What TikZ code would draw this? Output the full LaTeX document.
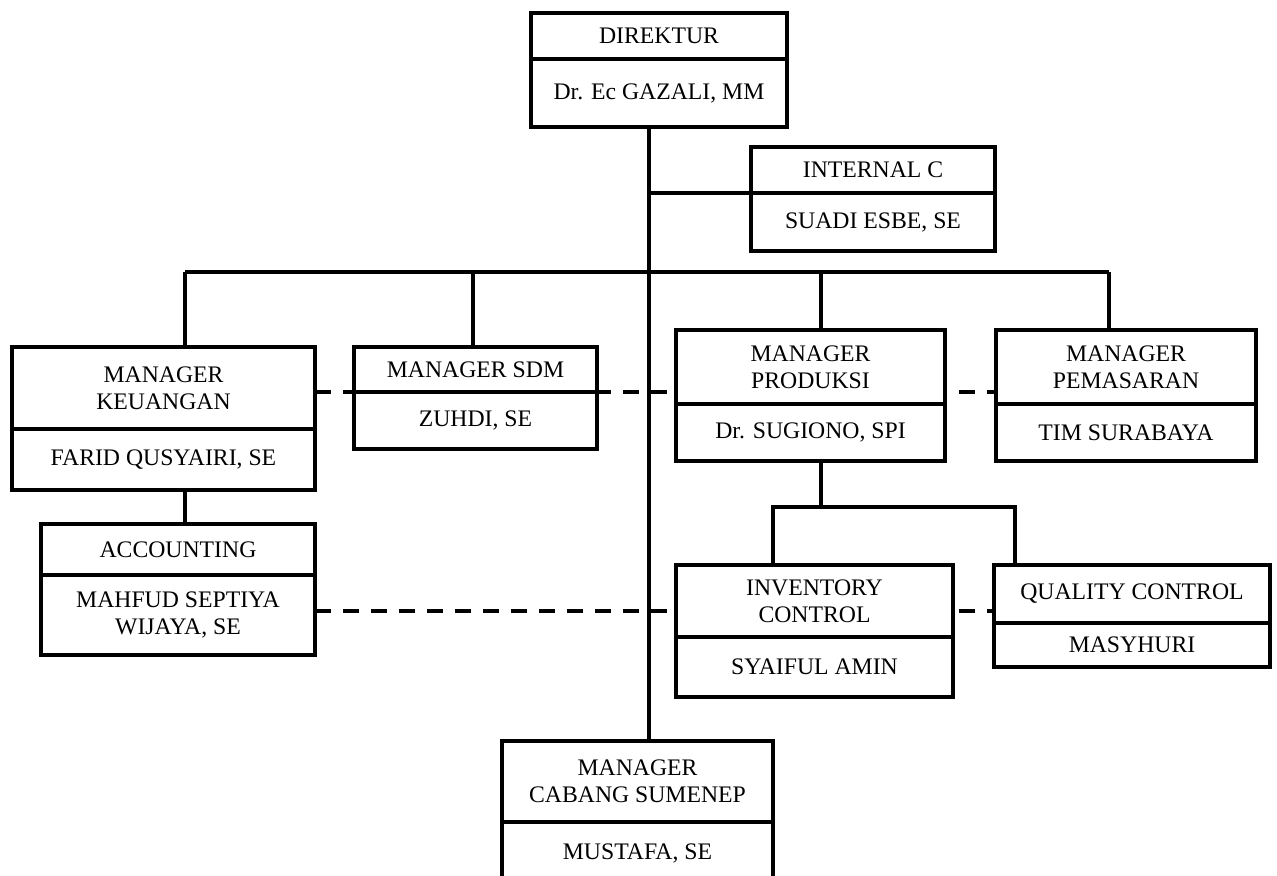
\documentclass[tikz,border=0pt]{standalone}
\usepackage{fontspec}
\setmainfont{Liberation Serif}
\usepackage{tikz}
\usetikzlibrary{calc}

\newcommand{\px}{0.02cm}
\pgfdeclarelayer{bawah}
\pgfsetlayers{bawah,main}
\tikzset{
  kotak/.style={draw, fill=white, line width=1.8pt, outer sep=0pt, inner sep=0pt,
    align=center, font=\fontsize{13.5}{15.4}\selectfont},
  garis/.style={line width=1.8pt},
  putus/.style={line width=1.9pt, dash pattern=on 0.32cm off 0.24cm}
}

\begin{document}
\begin{tikzpicture}[x=\px, y=-\px]
  \clip (0,0) rectangle (1277,875);

  % pimpinan
  \node[kotak, minimum width=256*\px, minimum height=46*\px] (dir) at (659,36) {DIREKTUR};
  \node[kotak, minimum width=256*\px, minimum height=68*\px, anchor=north] (dirnm) at (dir.south) {Dr. Ec GAZALI, MM};
  \node[kotak, minimum width=244*\px, minimum height=46*\px] (int) at (873,170) {INTERNAL C};
  \node[kotak, minimum width=244*\px, minimum height=58*\px, anchor=north] (intnm) at (int.south) {SUADI ESBE, SE};

  % manager
  \node[kotak, minimum width=303*\px, minimum height=82*\px] (keu) at (163.5,388) {MANAGER\\KEUANGAN};
  \node[kotak, minimum width=303*\px, minimum height=61*\px, anchor=north] (keunm) at (keu.south) {FARID QUSYAIRI, SE};
  \node[kotak, minimum width=243*\px, minimum height=45*\px] (sdm) at (475.5,369.5) {MANAGER SDM};
  \node[kotak, minimum width=243*\px, minimum height=57*\px, anchor=north] (sdmnm) at (sdm.south) {ZUHDI, SE};
  \node[kotak, minimum width=269*\px, minimum height=74*\px] (pro) at (810.5,367) {MANAGER\\PRODUKSI};
  \node[kotak, minimum width=269*\px, minimum height=57*\px, anchor=north] (pronm) at (pro.south) {Dr. SUGIONO, SPI};
  \node[kotak, minimum width=260*\px, minimum height=74*\px] (pem) at (1126,367) {MANAGER\\PEMASARAN};
  \node[kotak, minimum width=260*\px, minimum height=57*\px, anchor=north] (pemnm) at (pem.south) {TIM SURABAYA};

  % staf
  \node[kotak, minimum width=274*\px, minimum height=51*\px] (acc) at (178,549.5) {ACCOUNTING};
  \node[kotak, minimum width=274*\px, minimum height=80*\px, anchor=north] (accnm) at (acc.south) {MAHFUD SEPTIYA\\WIJAYA, SE};
  \node[kotak, minimum width=277*\px, minimum height=72*\px] (inv) at (814.5,601) {INVENTORY\\CONTROL};
  \node[kotak, minimum width=277*\px, minimum height=60*\px, anchor=north] (invnm) at (inv.south) {SYAIFUL AMIN};
  \node[kotak, minimum width=276*\px, minimum height=58*\px] (qc) at (1132,594) {QUALITY CONTROL};
  \node[kotak, minimum width=276*\px, minimum height=44*\px, anchor=north] (qcnm) at (qc.south) {MASYHURI};

  % cabang
  \node[kotak, minimum width=271*\px, minimum height=81*\px] (cab) at (637.5,781.5) {MANAGER\\CABANG SUMENEP};
  \node[kotak, minimum width=271*\px, minimum height=63*\px, anchor=north] (cabnm) at (cab.south) {MUSTAFA, SE};

  % garis komando
  \coordinate (batang) at (649,0);
  \coordinate (bKeu) at (185,272);
  \coordinate (bSdm) at (473,272);
  \coordinate (bPro) at (821,272);
  \coordinate (bPem) at (1109,272);
  \coordinate (cInv) at (773,507);
  \coordinate (cQc) at (1015,507);
  \draw[garis] (batang |- dirnm.south) -- (batang |- cab.north);
  \draw[garis] (batang |- int.south west) -- (int.south west);
  \draw[garis] (bKeu) -- (bPem);
  \draw[garis] (bKeu) -- (bKeu |- keu.north);
  \draw[garis] (bSdm) -- (bSdm |- sdm.north);
  \draw[garis] (bPro) -- (bPro |- pro.north);
  \draw[garis] (bPem) -- (bPem |- pem.north);
  \draw[garis] (bKeu |- keunm.south) -- (bKeu |- acc.north);
  \draw[garis] (bPro |- pronm.south) -- (bPro |- cInv);
  \draw[garis] (cInv |- inv.north) -- (cInv) -- (cQc) -- (cQc |- qc.north);

  % garis koordinasi
  \coordinate (hPutus) at (0,611);
  \begin{pgfonlayer}{bawah}
    \draw[putus] (keu.east |- sdm.south) -- (pem.west |- sdm.south);
    \draw[putus] (accnm.east |- hPutus) -- (qc.west |- hPutus);
  \end{pgfonlayer}
\end{tikzpicture}
\end{document}
